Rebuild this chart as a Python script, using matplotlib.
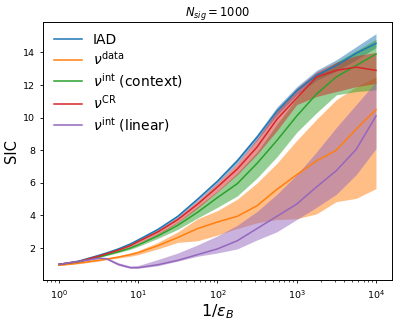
import numpy as np
import matplotlib
matplotlib.use('Agg')
import matplotlib.pyplot as plt

# log10(1/eps_B) sample points
logx = [0, 0.25, 0.5, 0.6, 0.75, 0.9, 1.0, 1.25, 1.5, 1.75, 2.0,
        2.25, 2.5, 2.75, 3.0, 3.25, 3.5, 3.75, 4.0]

# IAD
iad = [1.0, 1.2, 1.55, 1.7, 1.95, 2.25, 2.5, 3.15, 3.95, 5.0, 6.1,
       7.35, 8.8, 10.4, 11.65, 12.6, 13.2, 13.95, 14.55]
iad_lo = [0.98, 1.18, 1.52, 1.67, 1.91, 2.2, 2.45, 3.09, 3.88, 4.9, 5.98,
          7.2, 8.62, 10.15, 11.4, 12.3, 12.85, 13.55, 14.3]
iad_hi = [1.02, 1.22, 1.58, 1.73, 1.99, 2.3, 2.55, 3.21, 4.02, 5.1, 6.22,
          7.5, 8.98, 10.65, 11.9, 12.9, 13.55, 14.35, 15.15]

# nu^data
data = [0.95, 1.08, 1.25, 1.33, 1.45, 1.6, 1.72, 2.15, 2.65, 3.2, 3.6,
        3.95, 4.6, 5.6, 6.5, 7.35, 8.0, 9.3, 10.5]
data_lo = [0.92, 1.04, 1.2, 1.28, 1.39, 1.5, 1.6, 1.95, 2.35, 2.45, 2.8,
           3.2, 3.55, 3.75, 3.8, 4.1, 4.85, 5.05, 5.65]
data_hi = [0.98, 1.11, 1.29, 1.38, 1.52, 1.7, 1.84, 2.35, 3.0, 3.8, 4.3,
           5.0, 6.0, 7.2, 8.6, 9.9, 11.1, 11.9, 12.5]

# nu^int (context)
ctx = [1.0, 1.17, 1.45, 1.58, 1.78, 2.0, 2.2, 2.75, 3.4, 4.2, 5.1,
       5.95, 7.2, 8.6, 10.1, 11.45, 12.5, 13.2, 13.9]
ctx_lo = [0.98, 1.15, 1.42, 1.54, 1.72, 1.92, 2.1, 2.6, 3.15, 3.85, 4.5,
          5.2, 6.3, 7.6, 9.1, 10.3, 11.4, 11.6, 11.7]
ctx_hi = [1.02, 1.19, 1.48, 1.62, 1.84, 2.08, 2.3, 2.9, 3.6, 4.55, 5.5,
          6.6, 7.9, 9.6, 11.2, 12.6, 13.4, 14.1, 14.8]

# nu^CR
cr = [1.0, 1.18, 1.5, 1.65, 1.88, 2.15, 2.4, 3.0, 3.75, 4.7, 5.75,
      6.85, 8.2, 9.9, 11.2, 12.5, 12.9, 13.1, 12.9]
cr_lo = [0.98, 1.16, 1.46, 1.6, 1.82, 2.07, 2.3, 2.85, 3.55, 4.45, 5.45,
         6.5, 7.75, 9.2, 10.8, 11.3, 11.6, 11.9, 12.1]
cr_hi = [1.02, 1.2, 1.54, 1.7, 1.94, 2.23, 2.5, 3.12, 3.9, 4.9, 6.0,
         7.2, 8.7, 10.4, 11.8, 12.8, 13.4, 13.8, 14.0]

# nu^int (linear)
lin = [1.0, 1.18, 1.38, 1.35, 1.0, 0.8, 0.8, 0.98, 1.25, 1.6, 1.95,
       2.45, 3.2, 3.95, 4.7, 5.75, 6.75, 8.05, 10.1]
lin_lo = [0.97, 1.15, 1.33, 1.3, 0.93, 0.76, 0.76, 0.92, 1.2, 1.5, 1.7,
          1.95, 2.5, 3.0, 3.75, 4.5, 5.3, 6.5, 8.1]
lin_hi = [1.03, 1.21, 1.42, 1.42, 1.1, 0.9, 0.93, 1.3, 1.7, 2.2, 2.75,
          3.4, 4.25, 5.3, 6.5, 7.9, 9.4, 10.8, 12.2]

labels = ['IAD', r'$\nu^{\mathrm{data}}$', r'$\nu^{\mathrm{int}}$ (context)',
          r'$\nu^{\mathrm{CR}}$', r'$\nu^{\mathrm{int}}$ (linear)']
series = [(iad, iad_lo, iad_hi), (data, data_lo, data_hi),
          (ctx, ctx_lo, ctx_hi), (cr, cr_lo, cr_hi), (lin, lin_lo, lin_hi)]
colors = ['tab:blue', 'tab:orange', 'tab:green', 'tab:red', 'tab:purple']

x = 10**np.array(logx)

fig = plt.figure(figsize=(3.99, 3.23), dpi=100)
ax = fig.add_axes([0.108, 0.133, 0.874, 0.799])

for (y, lo, hi), c, lab in zip(series, colors, labels):
    ax.plot(x, y, color=c, lw=1.1, label=lab)
    ax.fill_between(x, lo, hi, color=c, alpha=0.5, lw=0)

ax.set_xscale('log')
ax.set_yticks([2, 4, 6, 8, 10, 12, 14])
ax.tick_params(labelsize=6.8, length=2.3, width=0.6)
ax.tick_params(which='minor', length=1.4, width=0.5)
for s in ax.spines.values():
    s.set_linewidth(0.7)

ax.set_xlabel(r'$1/\epsilon_B$', fontsize=11.5, labelpad=1)
ax.set_ylabel('SIC', fontsize=10.5, labelpad=3)
ax.set_title(r'$N_{sig} = 1000$', fontsize=8.3, pad=4)
ax.legend(loc='upper left', frameon=False, fontsize=10,
          handlelength=2.0, labelspacing=0.22, borderaxespad=0.4)

fig.savefig('out.png', dpi=100)
